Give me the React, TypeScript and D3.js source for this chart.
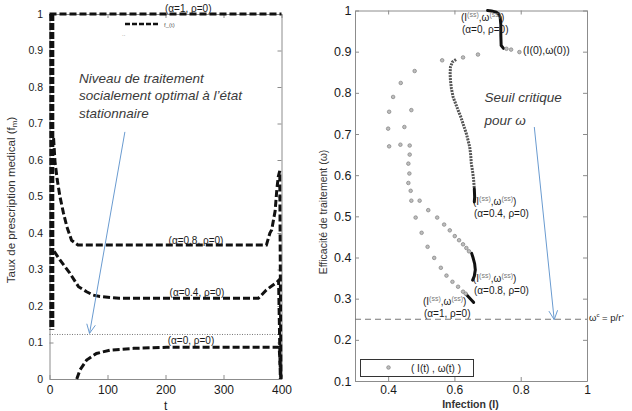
import React, { useEffect, useRef } from 'react';
import * as d3 from 'd3';

type Pt = [number, number];

// ---- left panel : f_m(t), rho = 0 ----
const tTicks = [0, 100, 200, 300, 400];
const fTicks = [0, 0.1, 0.2, 0.3, 0.4, 0.5, 0.6, 0.7, 0.8, 0.9, 1];
const alpha1Curve: Pt[] = [[0, 1], [400, 1]];
const alpha08Curve: Pt[] = [
  [7, 0.66], [9.5, 0.595], [13.4, 0.545], [18, 0.5], [24, 0.455], [30, 0.417], [38, 0.38],
  [49, 0.367], [200, 0.367], [374, 0.367], [380, 0.4], [383, 0.408], [389, 0.46],
  [392, 0.52], [394.5, 0.555], [397, 0.57], [399, 0],
];
const alpha04Curve: Pt[] = [
  [8, 0.35], [18, 0.326], [35, 0.29], [50, 0.253], [64, 0.239], [75, 0.23], [87, 0.226],
  [120, 0.221], [360, 0.221], [374, 0.244], [386, 0.258], [393, 0.267], [395, 0.27], [398, 0],
];
const alpha0Curve: Pt[] = [
  [47, 0], [52.6, 0.025], [64, 0.052], [81, 0.07], [104, 0.079], [145, 0.084],
  [202, 0.087], [396, 0.087], [399, 0],
];
const startBurst: Pt[] = [[4, 1], [4, 0.135]];
const steadyLevel = 0.122;

// ---- right panel : (I(t), omega(t)) ----
const iTicks = [0.4, 0.6, 0.8, 1];
const wTicks = [0.1, 0.2, 0.3, 0.4, 0.5, 0.6, 0.7, 0.8, 0.9, 1];
const omegaCritical = 0.25;
const startDots: Pt[] = [[0.796, 0.899], [0.771, 0.905], [0.757, 0.907]];
const alpha0Path: Pt[] = [
  [0.748, 0.908], [0.741, 0.915], [0.74, 0.94], [0.74, 0.965], [0.738, 0.984],
  [0.733, 0.992], [0.726, 0.996], [0.712, 0.999], [0.7, 1.0],
];
const outerLoopDots: Pt[] = [
  [0.671, 0.893], [0.626, 0.886], [0.563, 0.879], [0.48, 0.853], [0.438, 0.824],
  [0.415, 0.79], [0.403, 0.754], [0.4, 0.713], [0.403, 0.67],
];
const returnDots: Pt[] = [[0.47, 0.758], [0.449, 0.717], [0.437, 0.674]];
const alpha1Dots: Pt[] = [
  [0.465, 0.672], [0.465, 0.65], [0.461, 0.628], [0.464, 0.604], [0.461, 0.581],
  [0.468, 0.562], [0.47, 0.538], [0.483, 0.497], [0.501, 0.46], [0.519, 0.426],
  [0.539, 0.399], [0.559, 0.375], [0.576, 0.356], [0.594, 0.341], [0.611, 0.329],
  [0.626, 0.317], [0.634, 0.312],
];
const alpha08Dots: Pt[] = [
  [0.495, 0.538], [0.521, 0.515], [0.548, 0.497], [0.569, 0.48], [0.586, 0.466],
  [0.601, 0.452], [0.614, 0.442], [0.626, 0.432], [0.636, 0.423], [0.644, 0.415],
];
const alpha04Path: Pt[] = [
  [0.605, 0.881], [0.594, 0.875], [0.588, 0.863], [0.587, 0.845], [0.588, 0.83],
  [0.591, 0.81], [0.596, 0.79], [0.603, 0.775], [0.611, 0.758], [0.619, 0.742],
  [0.626, 0.725], [0.636, 0.701], [0.641, 0.685], [0.646, 0.669], [0.649, 0.65],
  [0.651, 0.628], [0.655, 0.608], [0.658, 0.588], [0.66, 0.567],
];
const alpha04End: Pt[] = [[0.66, 0.567], [0.661, 0.547], [0.66, 0.535]];
const alpha08End: Pt[] = [[0.652, 0.41], [0.656, 0.4], [0.661, 0.385], [0.663, 0.37], [0.66, 0.355], [0.655, 0.345]];
const alpha1End: Pt[] = [[0.636, 0.31], [0.645, 0.302], [0.652, 0.296], [0.658, 0.291]];

const FONT = 'Liberation Sans, Arial, sans-serif';

const App = () => {
  const ref = useRef<SVGSVGElement>(null);

  useEffect(() => {
    const svg = d3.select(ref.current);
    svg.selectAll('*').remove();

    const xL = d3.scaleLinear().domain([0, 400]).range([49.5, 281.5]);
    const yL = d3.scaleLinear().domain([0, 1]).range([379, 14]);
    const xR = d3.scaleLinear().domain([0.3, 1]).range([355, 587]);
    const yR = d3.scaleLinear().domain([0.1, 1]).range([381, 10.5]);

    const fmt = (v: number) => String(+v.toFixed(1));

    // box + inward ticks on all four sides
    const frame = (x: any, y: any, xt: number[], yt: number[], xFs: number, yFs: number, xPad: number, yPad: number) => {
      const [x0, x1] = x.range();
      const [y0, y1] = y.range();
      const g = svg.append('g');
      const axes = [
        { ax: d3.axisBottom(x).tickValues(xt).tickFormat(fmt as any), t: `translate(0,${y0})`, fs: xFs, pad: xPad },
        { ax: d3.axisTop(x).tickValues(xt).tickFormat(() => ''), t: `translate(0,${y1})`, fs: xFs, pad: 0 },
        { ax: d3.axisLeft(y).tickValues(yt).tickFormat(fmt as any), t: `translate(${x0},0)`, fs: yFs, pad: yPad },
        { ax: d3.axisRight(y).tickValues(yt).tickFormat(() => ''), t: `translate(${x1},0)`, fs: yFs, pad: 0 },
      ];
      axes.forEach(({ ax, t, fs, pad }) => {
        const a = g.append('g').attr('transform', t)
          .call(ax.tickSizeInner(-4).tickSizeOuter(0).tickPadding(pad));
        a.select('.domain').attr('stroke', '#8c8c8c');
        a.selectAll('line').attr('stroke', '#8c8c8c');
        a.selectAll('text').attr('font-family', FONT).attr('font-size', fs).attr('fill', '#1a1a1a');
      });
    };

    frame(xL, yL, tTicks, fTicks, 12, 10.5, 6, 6.5);
    frame(xR, yR, iTicks, wTicks, 12, 12.5, 4.5, 3.5);

    const txt = (x: number, y: number, s: string, fs: number, extra: any = {}) => {
      const t = svg.append('text').attr('x', x).attr('y', y).attr('font-family', FONT)
        .attr('font-size', fs).attr('fill', extra.fill || '#1a1a1a').text(s);
      if (extra.anchor) t.attr('text-anchor', extra.anchor);
      if (extra.italic) t.attr('font-style', 'italic');
      if (extra.bold) t.attr('font-weight', 'bold');
      if (extra.rotate) t.attr('transform', `rotate(-90,${x},${y})`);
      return t;
    };

    // ---- left panel marks ----
    const lineL = d3.line<Pt>().x(d => xL(d[0])).y(d => yL(d[1]));
    svg.append('line')
      .attr('x1', xL(0)).attr('x2', xL(400)).attr('y1', yL(steadyLevel)).attr('y2', yL(steadyLevel))
      .attr('stroke', '#777').attr('stroke-width', 1).attr('stroke-dasharray', '1 1.5');

    svg.append('path').attr('d', lineL(startBurst)!).attr('fill', 'none')
      .attr('stroke', '#111').attr('stroke-width', 5).attr('stroke-dasharray', '7 2');

    [alpha1Curve, alpha08Curve, alpha04Curve, alpha0Curve].forEach(c => {
      svg.append('path').attr('d', lineL(c)!).attr('fill', 'none')
        .attr('stroke', '#111').attr('stroke-width', 3).attr('stroke-dasharray', '7 3');
    });

    // legend of left panel
    svg.append('line').attr('x1', 125).attr('x2', 158).attr('y1', 24).attr('y2', 24)
      .attr('stroke', '#111').attr('stroke-width', 2.5).attr('stroke-dasharray', '5 2');
    txt(164, 26.5, 'f_(t)', 6, { fill: '#555' });
    txt(122, 36, '..', 6, { fill: '#777' });

    txt(165, 12, '(α=1, ρ=0)', 10);
    txt(196, 244, '(α=0.8, ρ=0)', 10, { anchor: 'middle' });
    txt(197, 296, '(α=0.4, ρ=0)', 10, { anchor: 'middle' });
    txt(191, 344, '(α=0, ρ=0)', 10, { anchor: 'middle' });

    const leftNote = ['Niveau de traitement', 'socialement optimal à l\u2019état', 'stationnaire'];
    leftNote.forEach((s, i) => txt(xL(51), yL(0.811) + i * 17.5, s, 13.5, { italic: true, fill: '#3a3a3a' }));

    const arrow = (x1: number, y1: number, x2: number, y2: number) => {
      const ang = Math.atan2(y2 - y1, x2 - x1);
      const g = svg.append('g').attr('stroke', '#6a9bd0').attr('stroke-width', 1).attr('fill', 'none');
      g.append('line').attr('x1', x1).attr('y1', y1).attr('x2', x2).attr('y2', y2);
      [-0.45, 0.45].forEach(da => {
        g.append('line').attr('x1', x2).attr('y1', y2)
          .attr('x2', x2 - 10 * Math.cos(ang + da)).attr('y2', y2 - 10 * Math.sin(ang + da));
      });
    };
    arrow(xL(130), yL(0.677), xL(69), yL(0.125));

    txt(164, 409.5, 't', 12);
    txt(15, 200, 'Taux de prescription medical (f', 11.5, { anchor: 'middle', rotate: true, fill: '#333' })
      .append('tspan').attr('font-size', 8).attr('dy', 2).text('m')
      .select(function () { return (this as any).parentNode; })
      .append('tspan').attr('dy', -2).text(')');

    // ---- right panel marks ----
    const lineR = d3.line<Pt>().x(d => xR(d[0])).y(d => yR(d[1]));
    svg.append('line')
      .attr('x1', xR(0.3)).attr('x2', xR(1)).attr('y1', yR(omegaCritical)).attr('y2', yR(omegaCritical))
      .attr('stroke', '#777').attr('stroke-width', 1).attr('stroke-dasharray', '6 4');

    svg.append('path').attr('d', lineR(alpha04Path)!).attr('fill', 'none')
      .attr('stroke', '#555').attr('stroke-width', 3).attr('stroke-dasharray', '2 1');

    [alpha0Path, alpha04End, alpha08End, alpha1End].forEach(c => {
      svg.append('path').attr('d', lineR(c)!).attr('fill', 'none')
        .attr('stroke', '#111').attr('stroke-width', 3).attr('stroke-linecap', 'round');
    });

    const dots = [...startDots, ...outerLoopDots, ...returnDots, ...alpha1Dots, ...alpha08Dots];
    svg.append('g').selectAll('circle').data(dots).enter().append('circle')
      .attr('cx', d => xR(d[0])).attr('cy', d => yR(d[1])).attr('r', 1.8)
      .attr('fill', '#bdbdbd').attr('stroke', '#808080').attr('stroke-width', 0.7);

    const ssLabel = (x: number, y: number, second: string) => {
      const t = txt(x, y, '', 10);
      t.append('tspan').text('(I');
      t.append('tspan').attr('font-size', 7).attr('fill', '#777').attr('dy', -4).text('(ss)');
      t.append('tspan').attr('dy', 4).text(',ω');
      t.append('tspan').attr('font-size', 7).attr('fill', '#777').attr('dy', -4).text('(ss)');
      t.append('tspan').attr('dy', 4).text(')');
      txt(x + 1, y + 12, second, 10);
    };
    ssLabel(461, 21, '(α=0, ρ=0)');
    ssLabel(473, 205, '(α=0.4, ρ=0)');
    ssLabel(473, 282, '(α=0.8, ρ=0)');
    ssLabel(423, 305, '(α=1, ρ=0)');

    txt(523, 54, '(I(0),ω(0))', 10.5);
    txt(589, 321, 'ω', 9.5).append('tspan').attr('font-size', 6).attr('dy', -4).text('c')
      .select(function () { return (this as any).parentNode; })
      .append('tspan').attr('dy', 4).text(' = p/r\u2019');

    txt(xR(0.691), yR(0.777), 'Seuil critique', 13.5, { italic: true, fill: '#3a3a3a' });
    txt(xR(0.691), yR(0.777) + 23, 'pour ω', 13.5, { italic: true, fill: '#3a3a3a' });
    arrow(xR(0.841), yR(0.717), xR(0.901), yR(0.249));

    // legend box
    svg.append('rect').attr('x', 360.5).attr('y', 359.5).attr('width', 113).attr('height', 17)
      .attr('fill', 'white').attr('stroke', '#333').attr('stroke-width', 1);
    svg.append('circle').attr('cx', 388.5).attr('cy', 367.5).attr('r', 1.8)
      .attr('fill', '#bdbdbd').attr('stroke', '#808080').attr('stroke-width', 0.7);
    txt(411, 371.5, '( I(t) , ω(t) )', 10);

    txt(470.5, 407.5, 'Infection (I)', 10.5, { anchor: 'middle', bold: true, fill: '#333' });
    txt(327, 212, 'Efficacité de traitement (ω)', 10.5, { anchor: 'middle', rotate: true, fill: '#333' });
  }, []);

  return (
    <svg ref={ref} width={632} height={411}
      style={{ position: 'absolute', left: 0, top: 0, background: 'white' }} />
  );
};

export default App;
